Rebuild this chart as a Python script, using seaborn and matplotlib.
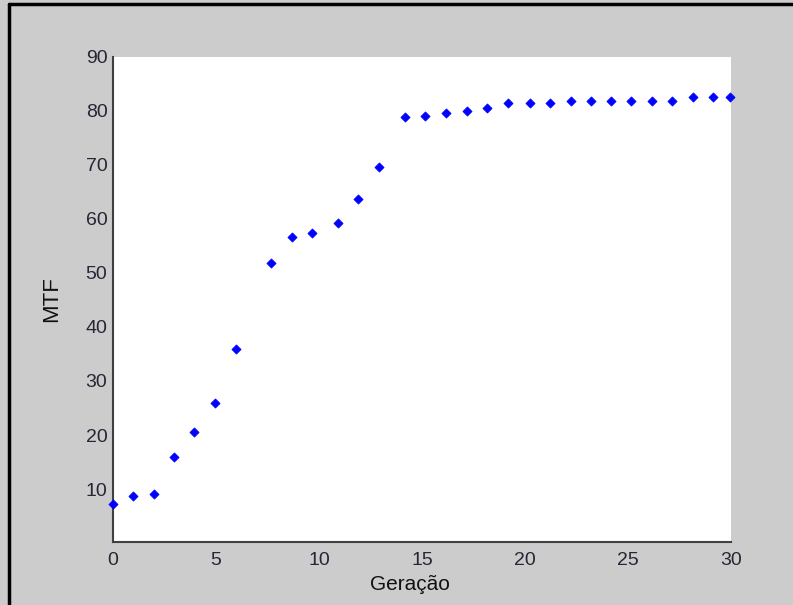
import numpy as np
import matplotlib
matplotlib.use('Agg')
import matplotlib.pyplot as plt
import seaborn as sns
import pandas as pd
from matplotlib.lines import Line2D

# Dados
geracao = [0.0, 0.97, 1.99, 2.96, 3.95, 4.94, 5.97, 7.68, 8.70, 9.67,
           10.91, 11.88, 12.93, 14.17, 15.15, 16.18, 17.17, 18.14, 19.17, 20.23,
           21.21, 22.22, 23.20, 24.17, 25.15, 26.15, 27.12, 28.14, 29.14, 29.95]
mtf = [7.2, 8.7, 9.0, 15.9, 20.6, 25.9, 35.9, 51.9, 56.6, 57.3,
       59.2, 63.6, 69.6, 78.9, 79.1, 79.6, 80.0, 80.5, 81.5, 81.4,
       81.4, 81.8, 81.8, 81.8, 81.8, 81.8, 81.8, 82.5, 82.5, 82.5]
xticks = [0, 5, 10, 15, 20, 25, 30]
yticks = [10, 20, 30, 40, 50, 60, 70, 80, 90]

df = pd.DataFrame({'Geração': geracao, 'MTF': mtf})

sns.set_style('white')
plt.rcParams['font.family'] = ['Liberation Sans', 'DejaVu Sans']

fig = plt.figure(figsize=(7.93, 6.05), dpi=100, facecolor='#cccccc')
ax = fig.add_axes([0.1425, 0.1041, 0.7793, 0.8022])
ax.set_facecolor('white')

sns.scatterplot(data=df, x='Geração', y='MTF', ax=ax, marker='D', s=22,
                color='#0000ff', edgecolor='#0000ff', linewidth=0.5, clip_on=False, zorder=3)

ax.set_xlim(0, 30)
ax.set_ylim(0.2, 90)
ax.set_xticks(xticks)
ax.set_yticks(yticks)

for s in ['top', 'right']:
    ax.spines[s].set_visible(False)
for s in ['left', 'bottom']:
    ax.spines[s].set_color('#404040')
    ax.spines[s].set_linewidth(1.5)

ax.tick_params(direction='in', length=5, width=1.3, color='#404040',
               labelsize=14, labelcolor='#262636')
ax.tick_params(axis='x', pad=7)
ax.tick_params(axis='y', pad=4)

ax.set_xlabel('Geração', fontsize=15, color='#111111')
ax.xaxis.set_label_coords(0.48, -0.068)
ax.set_ylabel('MTF', fontsize=16, color='#111111')
ax.yaxis.set_label_coords(-0.082, 0.5)

# moldura preta (esquerda e topo)
fig.add_artist(Line2D([0.0113, 0.0113], [0, 0.9926], color='black', lw=2.5))
fig.add_artist(Line2D([0.0113, 1], [0.9926, 0.9926], color='black', lw=2.5))

fig.savefig('out.png', dpi=100, facecolor=fig.get_facecolor())
